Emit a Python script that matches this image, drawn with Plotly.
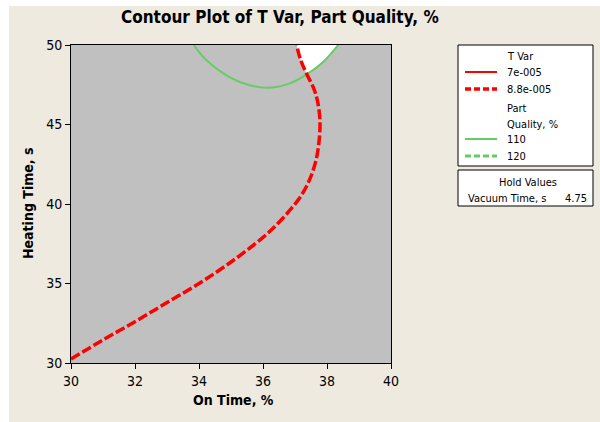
import numpy as np
import plotly.graph_objects as go

# ---- data ----
# T Var contour at 8.8e-005 (dashed red)
tvar_x = [30.0, 31.0, 32.0, 33.0, 34.0, 35.0, 36.0, 36.5, 36.9, 37.2, 37.45, 37.65, 37.75, 37.78, 37.72, 37.6, 37.37, 37.17, 37.05]
tvar_y = [30.25, 31.45, 32.6, 33.8, 35.0, 36.35, 37.9, 38.85, 39.75, 40.55, 41.5, 42.7, 43.9, 45.2, 46.3, 47.2, 48.16, 49.1, 50.0]
# Part Quality contour at 110 (solid green)
pq_x = [33.84, 34.2, 34.76, 35.39, 36.11, 36.84, 37.37, 37.89, 38.35]
pq_y = [50.0, 49.1, 48.22, 47.59, 47.31, 47.59, 48.16, 48.95, 50.0]

x_ticks = [30, 32, 34, 36, 38, 40]
y_ticks = [30, 35, 40, 45, 50]

# feasible (white) region: right of T Var curve and inside the 110 curve
tx, ty = np.array(tvar_x), np.array(tvar_y)
gx, gy = np.array(pq_x), np.array(pq_y)
y_int = 48.16
red_part_x = tx[ty >= y_int]
red_part_y = ty[ty >= y_int]
green_part_x = gx[(gx >= 37.37)]
green_part_y = gy[(gx >= 37.37)]
poly_x = list(green_part_x) + list(red_part_x[::-1])
poly_y = list(green_part_y) + list(red_part_y[::-1])

FONT = "Liberation Sans Narrow, DejaVu Sans Condensed, Liberation Sans, sans-serif"
CREAM = "#EEEAE0"
RED = "#FF0000"
GREEN = "#66CC66"

fig = go.Figure()
fig.add_trace(go.Scatter(x=poly_x, y=poly_y, fill="toself", fillcolor="white",
                         line=dict(width=0), mode="lines", hoverinfo="skip", showlegend=False))
fig.add_trace(go.Scatter(x=pq_x, y=pq_y, mode="lines", line=dict(color=GREEN, width=2, shape="spline"),
                         hoverinfo="skip", showlegend=False))
fig.add_trace(go.Scatter(x=tvar_x, y=tvar_y, mode="lines",
                         line=dict(color=RED, width=3.5, dash="10px,3px", shape="spline"),
                         hoverinfo="skip", showlegend=False))

L, T, W, H = 71, 45, 320, 318
def px(x):
    return (x - L) / W
def py(y):
    return 1 - (y - T) / H

shapes = []
# white strips at left/top edge of the image
shapes.append(dict(type="rect", xref="paper", yref="paper", x0=px(-5), x1=px(9), y0=py(430), y1=py(-5),
                   fillcolor="white", line=dict(width=0)))
shapes.append(dict(type="rect", xref="paper", yref="paper", x0=px(-5), x1=px(605), y0=py(6), y1=py(-5),
                   fillcolor="white", line=dict(width=0)))
# legend boxes
shapes.append(dict(type="rect", xref="paper", yref="paper", x0=px(458), x1=px(593), y0=py(166), y1=py(45),
                   fillcolor="white", line=dict(color="black", width=1)))
shapes.append(dict(type="rect", xref="paper", yref="paper", x0=px(458), x1=px(593), y0=py(206), y1=py(170),
                   fillcolor="white", line=dict(color="black", width=1)))
# legend samples
for yy, col, dash, w in [(72, RED, "solid", 2), (89, RED, "6px,3px", 3.5), (139, GREEN, "solid", 2), (156, GREEN, "6px,3px", 3)]:
    shapes.append(dict(type="line", xref="paper", yref="paper", x0=px(465), x1=px(497), y0=py(yy), y1=py(yy),
                       line=dict(color=col, width=w, dash=dash)))

ann = []
def text(t, x, y, size=11, xanchor="left", bold=False, angle=0):
    ann.append(dict(text=("<b>%s</b>" % t) if bold else t, x=px(x), y=py(y), xref="paper", yref="paper",
                    showarrow=False, xanchor=xanchor, yanchor="middle", textangle=angle,
                    font=dict(family=FONT, size=size, color="black")))

text("Contour Plot of T Var, Part Quality, %", 280, 17, size=17, xanchor="center", bold=True)
text("On Time, %", 233, 400, size=14, xanchor="center", bold=True)
text("Heating Time, s", 28, 203, size=14, xanchor="center", bold=True, angle=-90)
text("T Var", 505, 56)
text("7e-005", 505, 72)
text("8.8e-005", 505, 89)
text("Part", 505, 108)
text("Quality, %", 505, 124)
text("110", 505, 139)
text("120", 505, 156)
text("Hold Values", 528, 182, xanchor="center")
text("Vacuum Time, s", 466, 198)
text("4.75", 589, 198, xanchor="right")

axis_common = dict(showline=True, linecolor="black", linewidth=1, mirror=True, showgrid=False, zeroline=False,
                   ticks="outside", ticklen=5, tickcolor="black",
                   tickfont=dict(family=FONT, size=14, color="black"))
fig.update_layout(
    width=600, height=422,
    margin=dict(l=L, r=600 - L - W, t=T, b=422 - T - H),
    paper_bgcolor=CREAM, plot_bgcolor="#C0C0C0",
    xaxis=dict(range=[30, 40], tickvals=x_ticks, **axis_common),
    yaxis=dict(range=[30, 50], tickvals=y_ticks, **axis_common),
    shapes=shapes, annotations=ann, showlegend=False,
)
fig.write_html("out.html")
